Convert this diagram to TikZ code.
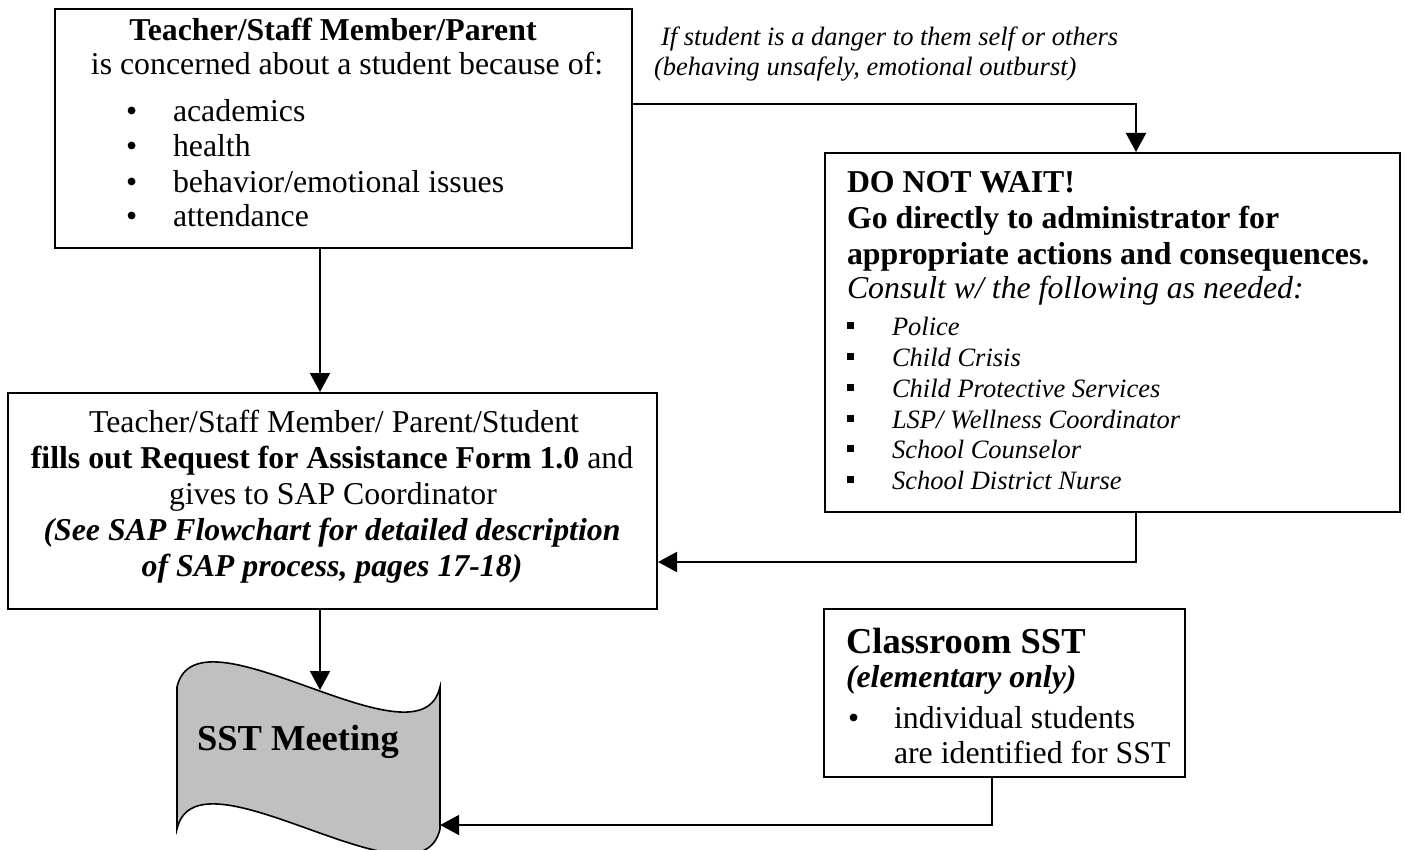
\documentclass[tikz,border=0pt]{standalone}
\usepackage{fontspec}
\setmainfont{Liberation Serif}
\usetikzlibrary{arrows.meta}
\definecolor{sstgray}{HTML}{C0C0C0}
\newcommand\myMain{\fontsize{31.8}{35.5}\selectfont}
\newcommand\mySmall{\fontsize{26.5}{30.5}\selectfont}
\newcommand\myLarge{\fontsize{36.5}{40}\selectfont}
\begin{document}
\begin{tikzpicture}[x=1pt,y=-1pt,
  box/.style={draw, line width=2pt, inner sep=0pt, rectangle},
  conn/.style={line width=2pt, -{Triangle[width=20pt,length=19pt]}},
  txt/.style={inner sep=0pt, outer sep=0pt, font=\myMain},
  stxt/.style={inner sep=0pt, outer sep=0pt, font=\mySmall\itshape},
  sq/.style={fill=black}]
\useasboundingbox (0,0) rectangle (1404,850);

% boxes
\node[box, minimum width=577pt, minimum height=239pt] (b1) at (343.5,128.5) {};
\node[box, minimum width=575pt, minimum height=359pt] (b2) at (1112.5,332.5) {};
\node[box, minimum width=649pt, minimum height=216pt] (b3) at (332.5,501) {};
\node[box, minimum width=361pt, minimum height=168pt] (b4) at (1004.5,693) {};

% SST meeting shape
\draw[line width=1.6pt, fill=sstgray] (177,687) .. controls (197,600) and (420,774) .. (440,687)
  -- (440,829) .. controls (420,916) and (197,742) .. (177,829) -- cycle;
\node[inner sep=0pt, minimum width=263pt, minimum height=142pt] (sst) at (308.5,758) {};
\node[txt, anchor=base west, font=\myLarge\bfseries] (sstl) at (197,750) {SST Meeting};

% box 1 text
\node[txt, anchor=base, font=\myMain\bfseries] (t1a) at (333,40.5) {Teacher/Staff Member/Parent};
\node[txt, anchor=base] (t1b) at (347,75) {is concerned about a student because of:};
\node[txt, anchor=base west] (u1) at (126,122) {•};
\node[txt, anchor=base west] (t1c) at (173,122) {academics};
\node[txt, anchor=base west] (u2) at (126,157) {•};
\node[txt, anchor=base west] (t1d) at (173,157) {health};
\node[txt, anchor=base west] (u3) at (126,193) {•};
\node[txt, anchor=base west] (t1e) at (173,193) {behavior/emotional issues};
\node[txt, anchor=base west] (u4) at (126,226) {•};
\node[txt, anchor=base west] (t1f) at (173,226) {attendance};

% condition label
\node[stxt, anchor=base west] (c1) at (661,46) {If student is a danger to them self or others};
\node[stxt, anchor=base west] (c2) at (654,76) {(behaving unsafely, emotional outburst)};

% box 2 text
\node[txt, anchor=base west, font=\myMain\bfseries] (t2a) at (847,193) {DO NOT WAIT!};
\node[txt, anchor=base west, font=\myMain\bfseries] (t2b) at (847,229) {Go directly to administrator for};
\node[txt, anchor=base west, font=\myMain\bfseries] (t2c) at (847,264) {appropriate actions and consequences.};
\node[txt, anchor=base west, font=\myMain\itshape] (t2d) at (847,298) {Consult w/ the following as needed:};
\foreach \yy/\tt/\nn in {335/{Police}/p1, 366.5/{Child Crisis}/p2, 397/{Child Protective Services}/p3,
   428/{LSP/ Wellness Coordinator}/p4, 458/{School Counselor}/p5, 489/{School District Nurse}/p6}{
  \fill (846.5,\yy-13.5) rectangle (853.5,\yy-6.5);
  \node[stxt, anchor=base west] (\nn) at (892,\yy) {\tt};
}

% box 3 text
\node[txt, anchor=base] (t3a) at (334,432) {Teacher/Staff Member/ Parent/Student};
\node[txt, anchor=base] (t3b) at (332,468) {\textbf{fills out Request for Assistance Form 1.0} and};
\node[txt, anchor=base] (t3c) at (333,504) {gives to SAP Coordinator};
\node[txt, anchor=base, font=\myMain\bfseries\itshape] (t3d) at (332,540) {(See SAP Flowchart for detailed description};
\node[txt, anchor=base, font=\myMain\bfseries\itshape] (t3e) at (332,576) {of SAP process, pages 17-18)};

% box 4 text
\node[txt, anchor=base west, font=\myLarge\bfseries] (t4a) at (846,653) {Classroom SST};
\node[txt, anchor=base west, font=\myMain\bfseries\itshape] (t4b) at (846,687) {(elementary only)};
\node[txt, anchor=base west] (u5) at (848,728) {•};
\node[txt, anchor=base west] (t4c) at (894,728) {individual students};
\node[txt, anchor=base west] (t4d) at (894,763) {are identified for SST};

% connectors
\coordinate (k1) at (1136,104);
\coordinate (k2) at (320,320);
\coordinate (k3) at (1136,562);
\coordinate (k5) at (992,825);
\coordinate (sstin) at (320,690);
\draw[conn] (b1.east |- k1) -- (k1) -- (b2.north -| k1);
\draw[conn] (b1.south -| k2) -- (b3.north -| k2);
\draw[conn] (b2.south -| k3) -- (k3) -- (b3.east |- k3);
\draw[conn] (b3.south -| k2) -- (sstin);
\draw[conn] (b4.south -| k5) -- (k5) -- (sst.east |- k5);
\end{tikzpicture}
\end{document}
